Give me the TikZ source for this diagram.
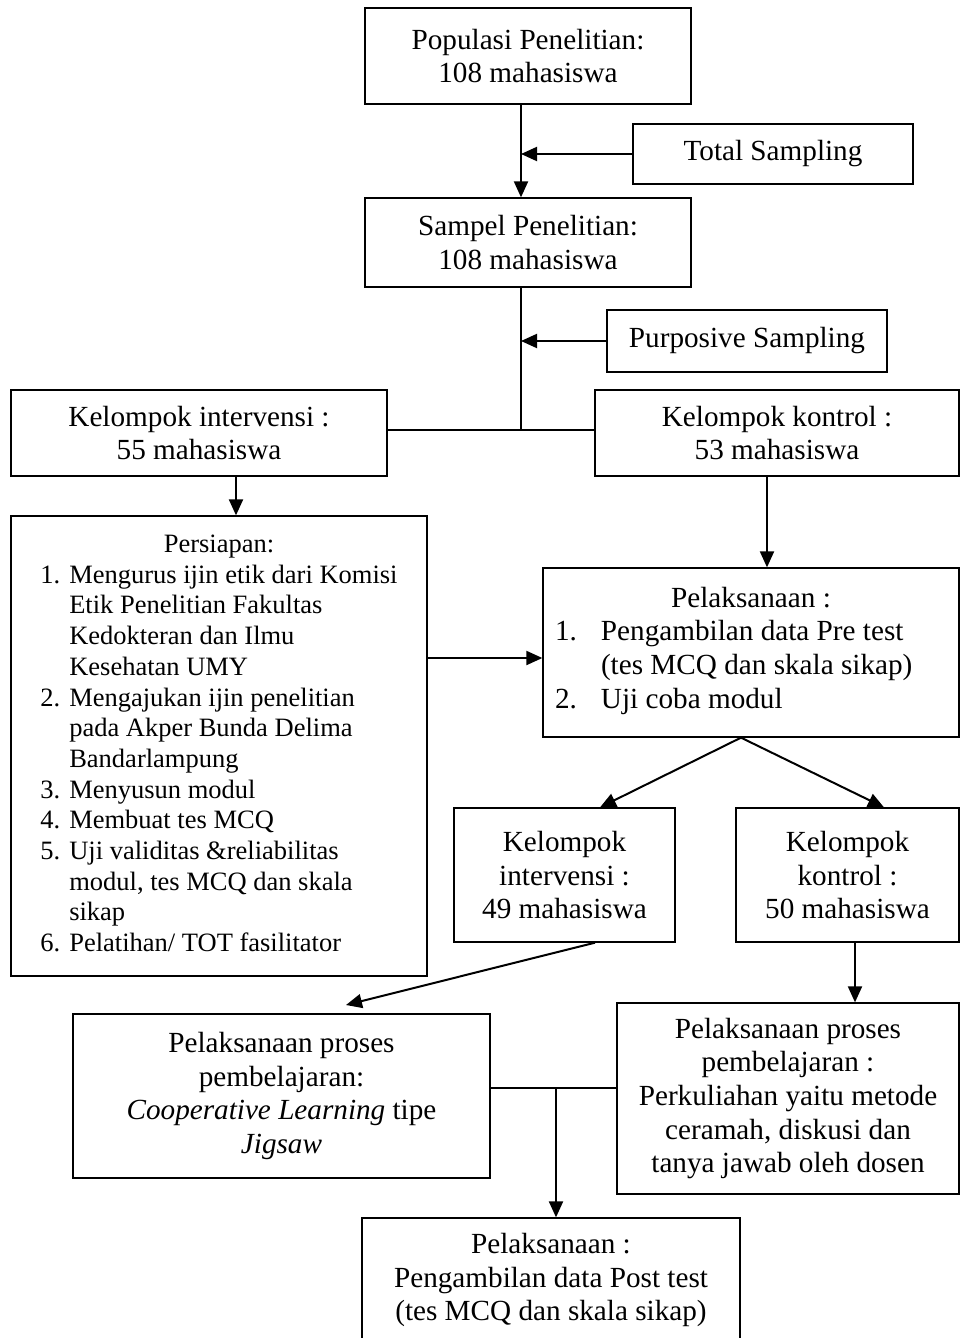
\documentclass[tikz,border=0pt]{standalone}
\usepackage{fontspec}
\setmainfont{Liberation Serif}
\usetikzlibrary{arrows.meta}
\newcommand{\mainsz}{\fontsize{29.2}{33.6}\selectfont}
\newcommand{\listsz}{\fontsize{26.5}{30.7}\selectfont}
\begin{document}
\begin{tikzpicture}[x=1pt,y=-1pt,
  box/.style={draw, line width=1.3pt, inner sep=0pt, align=center, font=\mainsz},
  arr/.style={line width=2pt, -{Triangle[length=16pt,width=14pt]}},
  conn/.style={line width=1.5pt}]
\useasboundingbox (0,0) rectangle (961,1338);

\node[box, minimum width=326pt, minimum height=96pt] (pop) at (528,56) {Populasi Penelitian:\\108 mahasiswa};
\node[box, minimum width=280pt, minimum height=60pt] (tot) at (773,154) {Total Sampling};
\node[box, minimum width=326pt, minimum height=89pt] (samp) at (528,242.5) {Sampel Penelitian:\\108 mahasiswa};
\node[box, minimum width=280pt, minimum height=62pt] (purp) at (747,341) {Purposive Sampling};
\node[box, minimum width=376pt, minimum height=86pt] (ki) at (199,433) {Kelompok intervensi :\\55 mahasiswa};
\node[box, minimum width=364pt, minimum height=86pt] (kk) at (777,433) {Kelompok kontrol :\\53 mahasiswa};

\node[box, font=\listsz, minimum width=416pt, minimum height=460pt] (pers) at (219,746) {%
\begin{tabular}{@{}l@{\hspace{9pt}}l@{}}
\multicolumn{2}{c}{Persiapan:}\\
1. & Mengurus ijin etik dari Komisi\\
 & Etik Penelitian Fakultas\\
 & Kedokteran dan Ilmu\\
 & Kesehatan UMY\\
2. & Mengajukan ijin penelitian\\
 & pada Akper Bunda Delima\\
 & Bandarlampung\\
3. & Menyusun modul\\
4. & Membuat tes MCQ\\
5. & Uji validitas \&reliabilitas\\
 & modul, tes MCQ dan skala\\
 & sikap\\
6. & Pelatihan/ TOT fasilitator
\end{tabular}};

\node[box, minimum width=416pt, minimum height=169pt] (pel) at (751,652.5) {%
\begin{tabular}{@{}p{46pt}@{}p{346pt}@{}}
\multicolumn{2}{c}{Pelaksanaan :}\\
1. & Pengambilan data Pre test\\
 & (tes MCQ dan skala sikap)\\
2. & Uji coba modul\rule[-13pt]{0pt}{1pt}
\end{tabular}};

\node[box, minimum width=221pt, minimum height=134pt] (ki2) at (564.5,875) {Kelompok\\intervensi :\\49 mahasiswa};
\node[box, minimum width=223pt, minimum height=134pt] (kk2) at (847.5,875) {Kelompok\\kontrol :\\50 mahasiswa};
\node[box, minimum width=417pt, minimum height=164pt] (ppl) at (281.5,1096) {Pelaksanaan proses\\pembelajaran:\\\textit{Cooperative Learning} tipe\\\textit{Jigsaw}};
\node[box, minimum width=342pt, minimum height=191pt] (ppr) at (788,1098.5) {Pelaksanaan proses\\pembelajaran :\\Perkuliahan yaitu metode\\ceramah, diskusi dan\\tanya jawab oleh dosen};
\node[box, minimum width=378pt, minimum height=124pt] (post) at (551,1280) {Pelaksanaan :\\Pengambilan data Post test\\(tes MCQ dan skala sikap)};

\coordinate (sp) at (521,0);
\coordinate (j1) at (521,430);
\coordinate (m1) at (0,658);
\coordinate (t1) at (346,1005);
\coordinate (m2) at (0,1088);
\coordinate (j2) at (556,1088);

\draw[arr] (pop.south -| sp) -- (samp.north -| sp);
\draw[arr] (tot.west) -- (tot.west -| sp);
\draw[arr] (purp.west) -- (purp.west -| sp);
\draw[conn] (samp.south -| sp) -- (j1);
\draw[conn] (ki.east |- j1) -- (kk.west |- j1);
\draw[arr] ([xshift=37pt]ki.south) -- ([xshift=17pt]pers.north);
\draw[arr] ([xshift=-10pt]kk.south) -- ([xshift=16pt]pel.north);
\draw[arr] (pers.east |- m1) -- (pel.west |- m1);
\draw[arr] ([xshift=-10pt]pel.south) -- ([xshift=35.5pt]ki2.north);
\draw[arr] ([xshift=-10pt]pel.south) -- ([xshift=36.5pt]kk2.north);
\draw[arr] ([xshift=30.5pt]ki2.south) -- (t1);
\draw[arr] ([xshift=7.5pt]kk2.south) -- ([xshift=67pt]ppr.north);
\draw[conn] (ppl.east |- m2) -- (ppr.west |- m2);
\draw[arr] (j2) -- (post.north -| j2);
\end{tikzpicture}
\end{document}
